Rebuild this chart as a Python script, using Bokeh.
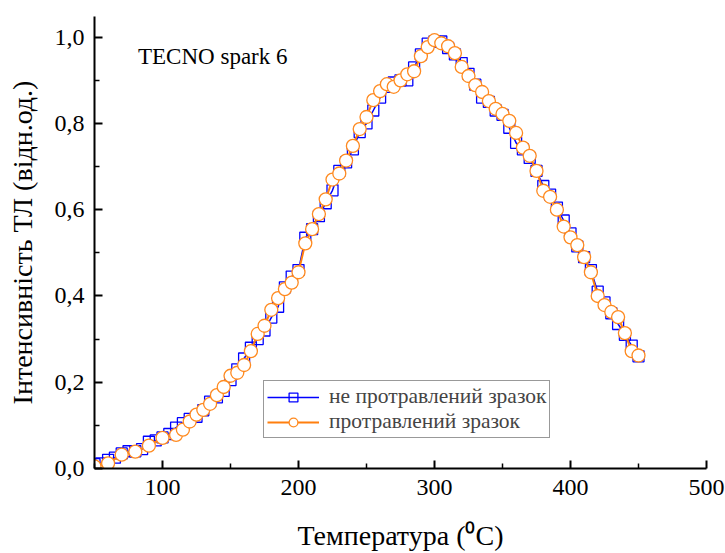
from bokeh.plotting import figure
from bokeh.models import FixedTicker, CustomJSTickFormatter, Label, Range1d, Legend, LegendItem
from bokeh.embed import file_html
from bokeh.resources import INLINE

# ---- data ----
t_blue = list(range(50, 455, 5))
i_blue = [0.010, 0.012, 0.020, 0.025, 0.035, 0.040, 0.040, 0.045, 0.062, 0.065,
          0.072, 0.080, 0.095, 0.105, 0.115, 0.120, 0.135, 0.155, 0.165, 0.180,
          0.205, 0.230, 0.255, 0.280, 0.300, 0.320, 0.350, 0.375, 0.420, 0.445,
          0.460, 0.535, 0.555, 0.585, 0.615, 0.645, 0.690, 0.710, 0.740, 0.780,
          0.800, 0.830, 0.860, 0.885, 0.895, 0.900, 0.900, 0.930, 0.960, 0.985,
          0.990, 0.990, 0.975, 0.960, 0.940, 0.915, 0.890, 0.860, 0.850, 0.830,
          0.820, 0.790, 0.755, 0.740, 0.720, 0.690, 0.655, 0.635, 0.605, 0.575,
          0.545, 0.515, 0.490, 0.460, 0.410, 0.385, 0.360, 0.335, 0.310, 0.285,
          0.260]

t_orange = [50, 60, 70, 80, 90, 100, 110, 115, 120, 125, 130, 135, 140, 145, 150,
            155, 160, 165, 170, 175, 180, 185, 190, 195, 200, 205, 210, 215, 220,
            225, 230, 235, 240, 245, 250, 255, 260, 265, 270, 275, 280, 285, 290,
            295, 300, 305, 310, 315, 320, 325, 330, 335, 340, 345, 350, 355, 360,
            365, 370, 375, 380, 385, 390, 395, 400, 405, 410, 415, 420, 425, 430,
            435, 440, 445, 450]
i_orange = [0.005, 0.012, 0.032, 0.039, 0.053, 0.071, 0.078, 0.090, 0.109, 0.125,
            0.136, 0.150, 0.170, 0.189, 0.215, 0.222, 0.240, 0.272, 0.312, 0.331,
            0.368, 0.395, 0.416, 0.431, 0.455, 0.522, 0.555, 0.590, 0.624, 0.670,
            0.684, 0.714, 0.748, 0.787, 0.815, 0.854, 0.875, 0.891, 0.885, 0.900,
            0.914, 0.921, 0.956, 0.977, 0.993, 0.986, 0.979, 0.963, 0.931, 0.910,
            0.889, 0.873, 0.852, 0.834, 0.822, 0.806, 0.778, 0.744, 0.725, 0.690,
            0.644, 0.630, 0.600, 0.561, 0.536, 0.518, 0.490, 0.455, 0.400, 0.379,
            0.363, 0.351, 0.314, 0.272, 0.262]

x_ticks = [100, 200, 300, 400, 500]
x_minor = [50, 150, 250, 350, 450]
y_ticks = [0.0, 0.2, 0.4, 0.6, 0.8, 1.0]
y_minor = [0.1, 0.3, 0.5, 0.7, 0.9]

label_blue = "не протравлений зразок"
label_orange = "протравлений зразок"
x_title = "Температура (\u2070C)"
y_title = "Інтенсивність ТЛ (відн.од.)"
note = "TECNO spark 6"

FONT = "Liberation Serif"

p = figure(width=725, height=553, output_backend="svg", toolbar_location=None,
           x_range=Range1d(50, 500), y_range=Range1d(0, 1.048),
           min_border_left=94, min_border_right=19, min_border_top=16, min_border_bottom=83)
p.grid.visible = False
p.outline_line_color = None
p.background_fill_color = "white"

b_line = p.line(t_blue, i_blue, line_color="#0000ff", line_width=1.5)
b_mark = p.scatter(t_blue, i_blue, marker="square", size=11, line_color="#0000ff",
                   line_width=1.3, fill_color=None)
o_line = p.line(t_orange, i_orange, line_color="#ff7f0e", line_width=2)
o_mark = p.scatter(t_orange, i_orange, marker="circle", size=13, line_color="#ff8a1f",
                   line_width=1.3, fill_color="white")

for ax, ticks, minor in ((p.xaxis[0], x_ticks, x_minor), (p.yaxis[0], y_ticks, y_minor)):
    ax.ticker = FixedTicker(ticks=ticks, minor_ticks=minor)
    ax.axis_line_width = 2
    ax.axis_line_color = "black"
    ax.major_tick_in = 8
    ax.major_tick_out = 0
    ax.minor_tick_in = 5
    ax.minor_tick_out = 0
    ax.major_tick_line_width = 2
    ax.minor_tick_line_width = 1.5
    ax.major_label_text_font = FONT
    ax.major_label_text_font_size = "24px"
    ax.major_label_text_color = "black"
    ax.axis_label_text_font = FONT
    ax.axis_label_text_font_size = "28px"
    ax.axis_label_text_font_style = "normal"
    ax.axis_label_text_color = "black"

p.yaxis[0].formatter = CustomJSTickFormatter(code="return tick.toFixed(1).replace('.', ',');")
p.xaxis[0].axis_label = x_title
p.yaxis[0].axis_label = y_title
p.xaxis[0].major_label_standoff = 11
p.yaxis[0].major_label_standoff = 10
p.xaxis[0].axis_label_standoff = 22
p.yaxis[0].axis_label_standoff = 14

p.add_layout(Label(x=82, y=0.955, text=note, text_font=FONT, text_font_size="23px",
                   text_color="black", text_baseline="alphabetic"))

legend = Legend(items=[LegendItem(label=label_blue, renderers=[b_line, b_mark]),
                       LegendItem(label=label_orange, renderers=[o_line, o_mark])],
                location=(169, 30))
legend.label_text_font = FONT
legend.label_text_font_size = "21.5px"
legend.border_line_color = "#333333"
legend.border_line_width = 1.2
legend.padding = 3
legend.spacing = 0
legend.margin = 0
legend.glyph_width = 52
legend.glyph_height = 22
legend.label_height = 22
legend.label_standoff = 10
legend.background_fill_alpha = 1
p.add_layout(legend, "center")

open("out.html", "w").write(file_html(p, INLINE))
